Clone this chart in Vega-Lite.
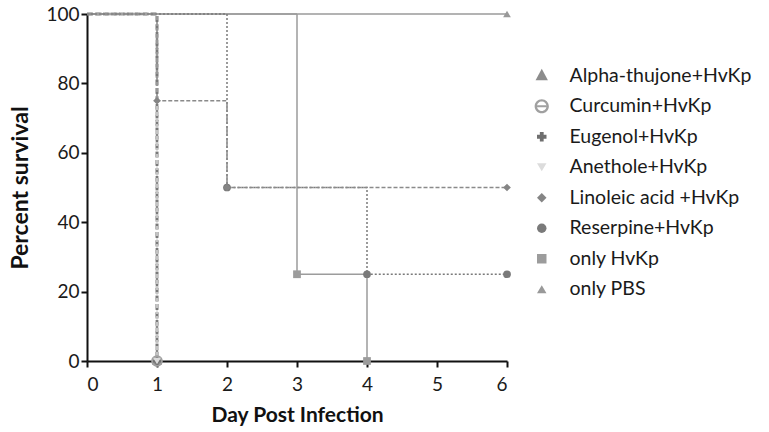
{
  "$schema": "https://vega.github.io/schema/vega-lite/v6.json",
  "width": 420,
  "height": 347,
  "autosize": {"type": "none"},
  "padding": {"left": 87, "top": 14, "right": 262, "bottom": 71},
  "background": "white",
  "config": {
    "view": {"stroke": null},
    "font": "Lato",
    "axis": {
      "domainColor": "#111",
      "domainWidth": 2,
      "tickColor": "#111",
      "tickWidth": 2,
      "tickSize": 6,
      "grid": false,
      "labelFontSize": 19,
      "labelColor": "#1a1a1a",
      "labelFont": "Lato",
      "titleFont": "Lato",
      "titleFontWeight": "bold",
      "titleColor": "#111"
    },
    "legend": {
      "labelFont": "Lato",
      "labelFontSize": 19.5,
      "labelColor": "#1a1a1a",
      "labelLimit": 400
    }
  },
  "data": {
    "values": [
      {"group": "Alpha-thujone+HvKp", "day": 0, "survival": 100},
      {"group": "Alpha-thujone+HvKp", "day": 1, "survival": 0},
      {"group": "Curcumin+HvKp", "day": 0, "survival": 100},
      {"group": "Curcumin+HvKp", "day": 1, "survival": 0},
      {"group": "Eugenol+HvKp", "day": 0, "survival": 100},
      {"group": "Eugenol+HvKp", "day": 1, "survival": 0},
      {"group": "Anethole+HvKp", "day": 0, "survival": 100},
      {"group": "Anethole+HvKp", "day": 1, "survival": 0},
      {"group": "only PBS", "day": 0, "survival": 100},
      {"group": "only PBS", "day": 6, "survival": 100},
      {"group": "only HvKp", "day": 0, "survival": 100},
      {"group": "only HvKp", "day": 3, "survival": 25},
      {"group": "only HvKp", "day": 4, "survival": 0},
      {"group": "Reserpine+HvKp", "day": 0, "survival": 100},
      {"group": "Reserpine+HvKp", "day": 2, "survival": 50},
      {"group": "Reserpine+HvKp", "day": 4, "survival": 25},
      {"group": "Reserpine+HvKp", "day": 6, "survival": 25},
      {"group": "Linoleic acid +HvKp", "day": 0, "survival": 100},
      {"group": "Linoleic acid +HvKp", "day": 1, "survival": 75},
      {"group": "Linoleic acid +HvKp", "day": 2, "survival": 50},
      {"group": "Linoleic acid +HvKp", "day": 6, "survival": 50}
    ]
  },
  "encoding": {
    "x": {
      "field": "day",
      "type": "quantitative",
      "scale": {"domain": [0, 6], "nice": false, "zero": false},
      "axis": {"title": "Day Post Infection", "values": [0, 1, 2, 3, 4, 5, 6], "labelPadding": 8, "titlePadding": 10, "titleFontSize": 21}
    },
    "y": {
      "field": "survival",
      "type": "quantitative",
      "scale": {"domain": [0, 100], "nice": false},
      "axis": {"title": "Percent survival", "values": [0, 20, 40, 60, 80, 100], "labelPadding": 2, "titlePadding": 13, "titleFontSize": 23}
    }
  },
  "layer": [
    {
      "mark": {"type": "line", "interpolate": "step-after"},
      "encoding": {
        "stroke": {
          "field": "group",
          "type": "nominal",
          "scale": {
            "domain": ["only PBS", "only HvKp", "Reserpine+HvKp", "Linoleic acid +HvKp", "Anethole+HvKp", "Eugenol+HvKp", "Curcumin+HvKp", "Alpha-thujone+HvKp"],
            "range": ["#b3b3b3", "#9c9c9c", "#7a7a7a", "#8a8a8a", "#dcdcdc", "#7a7a7a", "#a0a0a0", "#8c8c8c"]
          },
          "legend": null
        },
        "strokeDash": {
          "field": "group",
          "type": "nominal",
          "scale": {
            "domain": ["only PBS", "only HvKp", "Reserpine+HvKp", "Linoleic acid +HvKp", "Anethole+HvKp", "Eugenol+HvKp", "Curcumin+HvKp", "Alpha-thujone+HvKp"],
            "range": [[1, 0], [1, 0], [2, 2], [4, 2], [4, 2], [6, 2], [5, 3], [6, 3]]
          },
          "legend": null
        },
        "strokeWidth": {
          "field": "group",
          "type": "nominal",
          "scale": {
            "type": "ordinal",
            "domain": ["only PBS", "only HvKp", "Reserpine+HvKp", "Linoleic acid +HvKp", "Anethole+HvKp", "Eugenol+HvKp", "Curcumin+HvKp", "Alpha-thujone+HvKp"],
            "range": [1.8, 1.5, 1.5, 1.5, 1.5, 2.5, 2.5, 2.5]
          },
          "legend": null
        }
      }
    },
    {
      "transform": [{"filter": "datum.day > 0"}],
      "mark": {"type": "point", "filled": true, "opacity": 1, "size": 60},
      "encoding": {
        "color": {
          "field": "group",
          "type": "nominal",
          "scale": {
            "domain": ["Alpha-thujone+HvKp", "Curcumin+HvKp", "Eugenol+HvKp", "Anethole+HvKp", "Linoleic acid +HvKp", "Reserpine+HvKp", "only HvKp", "only PBS"],
            "range": ["#8c8c8c", "#a0a0a0", "#6f6f6f", "#dcdcdc", "#858585", "#7a7a7a", "#9c9c9c", "#999999"]
          },
          "legend": {
            "title": null,
            "orient": "none",
            "legendX": 445,
            "legendY": 52,
            "padding": 0,
            "labelOffset": 18,
            "rowPadding": 9.5,
            "symbolSize": 90
          }
        },
        "shape": {
          "field": "group",
          "type": "nominal",
          "scale": {
            "domain": ["Alpha-thujone+HvKp", "Curcumin+HvKp", "Eugenol+HvKp", "Anethole+HvKp", "Linoleic acid +HvKp", "Reserpine+HvKp", "only HvKp", "only PBS"],
            "range": [
              "M0,-1.45L1.3,0.95L-1.3,0.95Z",
              "M-1.5,0A1.5,1.5 0 1,0 1.5,0A1.5,1.5 0 1,0 -1.5,0ZM-1,0A1,1 0 1,1 1,0A1,1 0 1,1 -1,0ZM-1,-0.2H1V0.2H-1Z",
              "cross",
              "triangle-down",
              "diamond",
              "circle",
              "square",
              "triangle-up"
            ]
          },
          "legend": {
            "title": null,
            "orient": "none",
            "legendX": 445,
            "legendY": 52,
            "padding": 0,
            "labelOffset": 18,
            "rowPadding": 9.5,
            "symbolSize": 90
          }
        }
      }
    }
  ]
}
